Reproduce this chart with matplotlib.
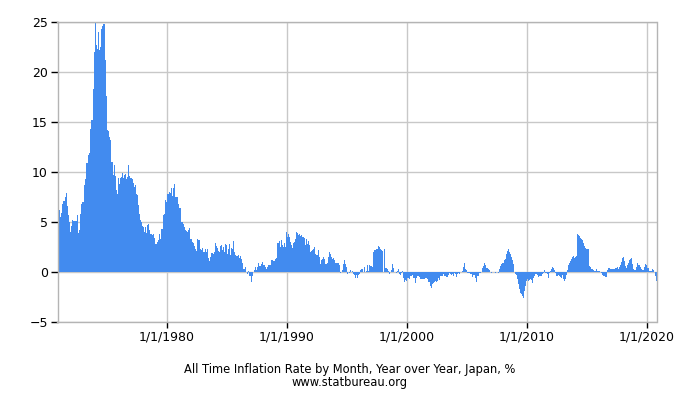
import numpy as np
import matplotlib
matplotlib.use("Agg")
import matplotlib.pyplot as plt

# monthly year-over-year inflation, Japan, % (Jan 1971 .. Nov 2020)
infl_1970s = [
    6.5, 6.2, 5.5, 5.9, 6.8, 7.1, 7.1, 7.5, 7.9, 6.6, 5.7, 5.0,          # 1971
    4.0, 4.6, 5.2, 5.1, 5.1, 5.1, 5.1, 5.7, 3.9, 4.2, 5.8, 6.8,          # 1972
    7.0, 7.0, 8.7, 9.3, 10.9, 10.9, 11.7, 11.9, 14.3, 15.2, 15.2, 18.3,  # 1973
    22.0, 24.9, 22.7, 22.3, 24.0, 22.2, 22.5, 24.3, 24.6, 24.8, 24.8, 21.2,  # 1974
    17.6, 14.2, 14.1, 13.5, 13.2, 11.0, 11.0, 9.7, 10.7, 9.6, 8.2, 7.8,  # 1975
    9.4, 8.8, 9.4, 9.5, 9.9, 9.4, 9.7, 9.8, 9.3, 9.5, 10.7, 9.6,         # 1976
    9.4, 9.4, 9.3, 8.9, 8.5, 8.7, 7.8, 7.7, 6.7, 5.8, 5.2, 5.0,          # 1977
    4.6, 4.5, 4.0, 4.5, 3.9, 4.7, 4.8, 4.2, 3.8, 3.8, 3.7, 3.8,          # 1978
    3.4, 2.8, 2.8, 3.0, 3.2, 3.8, 3.3, 4.3, 4.3, 5.7, 5.8, 7.2,          # 1979
]
infl_1980s = [
    7.0, 7.8, 7.8, 8.0, 7.9, 8.4, 7.6, 8.4, 8.8, 7.5, 7.5, 7.5,          # 1980
    6.8, 6.4, 6.4, 5.0, 5.0, 4.8, 4.5, 4.2, 4.1, 4.0, 4.2, 4.4,          # 1981
    3.3, 3.3, 3.0, 2.9, 2.6, 2.3, 2.1, 3.3, 3.2, 3.2, 2.3, 2.2,          # 1982
    2.4, 2.0, 2.0, 2.3, 2.0, 2.3, 1.4, 1.1, 1.5, 1.9, 1.9, 1.8,          # 1983
    2.0, 2.9, 2.6, 2.4, 2.1, 2.0, 2.6, 2.7, 2.2, 2.5, 2.0, 2.8,          # 1984
    2.7, 1.8, 2.3, 2.8, 1.7, 2.4, 2.3, 3.1, 2.0, 1.7, 1.6, 1.6,          # 1985
    1.7, 1.4, 1.6, 1.3, 0.9, 0.3, 0.3, 0.5, 0.0, -0.2, 0.1, -0.4,        # 1986
    -0.4, -1.0, -0.4, 0.0, 0.2, 0.5, 0.2, 0.5, 0.9, 0.6, 0.6, 0.8,       # 1987
    1.0, 0.7, 0.7, 0.5, 0.3, 0.5, 0.7, 0.7, 0.7, 1.2, 1.2, 1.1,          # 1988
    1.1, 1.3, 1.4, 2.9, 2.9, 3.1, 2.5, 3.2, 2.7, 2.5, 2.9, 2.5,          # 1989
]
infl_1990s = [
    4.0, 3.5, 3.8, 3.5, 3.0, 2.7, 2.4, 2.9, 3.0, 3.3, 4.0, 3.9,          # 1990
    3.7, 3.8, 3.6, 3.7, 3.5, 3.5, 3.4, 2.7, 3.3, 2.8, 3.1, 2.7,          # 1991
    2.0, 2.1, 2.2, 2.3, 2.5, 1.8, 1.7, 1.7, 2.2, 1.5, 0.8, 1.2,          # 1992
    1.3, 1.5, 1.3, 0.8, 0.8, 0.9, 1.5, 2.0, 1.8, 1.5, 1.3, 1.4,          # 1993
    1.2, 0.9, 0.9, 0.9, 0.9, 0.7, -0.1, 0.0, 0.2, 0.8, 1.2, 0.8,         # 1994
    0.5, -0.2, 0.0, -0.1, 0.2, 0.0, 0.1, -0.2, -0.3, -0.6, -0.3, -0.6,   # 1995
    -0.3, -0.2, 0.2, 0.3, 0.3, 0.0, 0.5, 0.0, 0.1, 0.7, 0.1, 0.7,        # 1996
    0.6, 0.6, 0.5, 2.0, 2.2, 2.2, 2.3, 2.3, 2.6, 2.5, 2.3, 2.2,          # 1997
    2.1, 0.0, 2.3, 0.4, 0.4, 0.3, 0.1, -0.2, 0.0, 0.2, 0.8, 0.4,         # 1998
    0.0, 0.0, -0.1, 0.1, 0.3, -0.2, -0.3, -0.1, 0.1, -0.6, -1.0, -0.8,   # 1999
]
infl_2000s = [
    -0.9, -0.6, -0.6, -0.7, -0.4, -0.4, -0.3, -0.6, -0.6, -1.1, -0.6, -0.4,  # 2000
    -0.4, -0.5, -0.7, -0.7, -0.7, -0.7, -0.7, -0.6, -0.6, -0.7, -1.0, -1.0,  # 2001
    -1.4, -1.6, -1.2, -1.1, -1.0, -0.9, -1.0, -0.9, -0.6, -0.8, -0.4, -0.4,  # 2002
    -0.4, -0.2, -0.4, -0.4, -0.5, -0.5, -0.3, -0.1, -0.2, -0.3, -0.2, -0.4,  # 2003
    -0.1, -0.2, -0.5, -0.2, -0.1, -0.2, 0.0, 0.0, 0.1, 0.5, 0.9, 0.3,        # 2004
    0.2, -0.1, -0.1, -0.1, -0.2, -0.2, -0.5, -0.3, -0.3, -0.6, -1.0, -0.4,   # 2005
    -0.4, -0.1, -0.1, 0.0, 0.4, 0.6, 0.9, 0.7, 0.4, 0.4, 0.3, 0.2,           # 2006
    0.0, -0.1, 0.0, 0.0, 0.0, -0.1, 0.0, 0.0, -0.1, 0.3, 0.6, 0.8,           # 2007
    0.9, 0.9, 1.2, 1.3, 1.8, 2.1, 2.3, 2.0, 1.8, 1.5, 1.2, 0.8,              # 2008
    0.0, -0.2, -0.3, -0.7, -1.2, -1.7, -2.1, -2.2, -2.4, -2.6, -1.9, -1.4,   # 2009
]
infl_2010s = [
    -0.9, -0.7, -0.9, -0.8, -0.7, -0.8, -1.1, -0.6, -0.4, -0.2, -0.2, -0.3,  # 2010
    -0.5, -0.4, -0.4, -0.4, -0.2, -0.1, 0.2, -0.1, -0.1, -0.2, -0.6, -0.1,   # 2011
    0.1, 0.3, 0.5, 0.4, 0.2, -0.1, -0.4, -0.4, -0.3, -0.4, -0.5, -0.6,       # 2012
    -0.3, -0.7, -0.9, -0.7, -0.3, 0.2, 0.7, 0.9, 1.1, 1.3, 1.5, 1.6,         # 2013
    1.4, 1.5, 1.6, 3.8, 3.7, 3.6, 3.4, 3.3, 3.2, 2.9, 2.6, 2.4,              # 2014
    2.3, 2.3, 2.3, 0.6, 0.5, 0.3, 0.3, 0.2, 0.1, 0.1, 0.3, 0.1,              # 2015
    0.1, 0.1, 0.0, -0.1, -0.3, -0.4, -0.4, -0.5, -0.5, 0.2, 0.4, 0.4,        # 2016
    0.3, 0.3, 0.3, 0.3, 0.3, 0.4, 0.4, 0.5, 0.3, 0.5, 0.7, 1.0,              # 2017
    1.4, 1.5, 1.1, 0.6, 0.4, 0.7, 0.9, 1.2, 1.3, 1.4, 0.8, 0.3,              # 2018
    0.2, 0.2, 0.5, 0.9, 0.7, 0.7, 0.5, 0.3, 0.2, 0.2, 0.5, 0.8,              # 2019
]
infl_2020 = [0.7, 0.4, 0.4, 0.1, 0.1, 0.1, 0.3, 0.2, 0.0, -0.4, -0.9]

start_year = 1971
tick_years = [1980, 1990, 2000, 2010, 2020]
tick_labels = ["1/1/%d" % y for y in tick_years]
caption = "All Time Inflation Rate by Month, Year over Year, Japan, %\nwww.statbureau.org"

values = np.array(infl_1970s + infl_1980s + infl_1990s + infl_2000s + infl_2010s + infl_2020)
dates = start_year + np.arange(len(values)) / 12.0

fig = plt.figure(figsize=(7, 4), dpi=100)
ax = fig.add_axes([57.5 / 700, 1 - 322 / 400, 599 / 700, 300 / 400])

ax.bar(dates, values, width=-1 / 12, align="edge", color="#428bef",
       linewidth=0, zorder=2)

ax.set_xlim(1970.9, 2020.82)
ax.set_ylim(-5, 25)
ax.set_xticks(tick_years)
ax.set_xticklabels(tick_labels)
ax.set_yticks(range(-5, 26, 5))

ax.grid(True, color="#c8c8c8", linewidth=1, zorder=0)
ax.set_axisbelow(True)
for s in ax.spines.values():
    s.set_color("#b4b4b4")
    s.set_linewidth(1)

ax.tick_params(axis="both", colors="black", labelsize=9, length=5, width=1,
               direction="out", pad=2)
ax.tick_params(axis="x", length=4, pad=2)

# two-line caption below the chart
fig.text(0.5, 1 - 376 / 400, caption, ha="center", va="center",
         fontsize=8.3, linespacing=0.95, multialignment="center")

fig.savefig("out.png", dpi=100)
